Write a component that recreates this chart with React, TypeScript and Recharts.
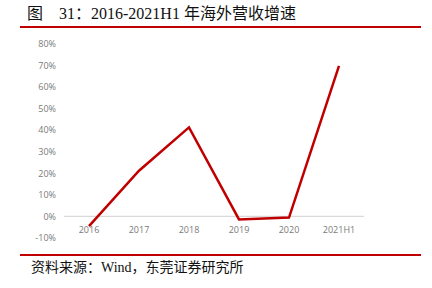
import { LineChart, Line, XAxis, YAxis, ReferenceLine } from "recharts";

const years = ["2016", "2017", "2018", "2019", "2020", "2021H1"];
const growth = [-4.5, 21.2, 41.3, -1.4, -0.5, 69.9];
const yTicks = [-10, 0, 10, 20, 30, 40, 50, 60, 70, 80];

const data = years.map((year, i) => ({ year, growth: growth[i] }));

const RED = "#c00000";
const TEXT_FONT = "'Liberation Serif', 'Noto Sans CJK SC', serif";
const AXIS_FONT = "'Open Sans', 'Liberation Sans', sans-serif";

function XTick({ x, y, payload }: any) {
  return (
    <text
      x={x}
      y={y - 5}
      textAnchor="middle"
      fontSize={9}
      fontFamily={AXIS_FONT}
      fill="#7a7a7a"
    >
      {payload.value}
    </text>
  );
}

export default function App() {
  return (
    <div
      style={{
        position: "absolute",
        left: 0,
        top: 0,
        width: 432,
        height: 288,
        background: "#fff",
        overflow: "hidden",
      }}
    >
      <div
        style={{
          position: "absolute",
          left: 27,
          top: 4,
          fontSize: 16,
          fontFamily: TEXT_FONT,
          color: "#111",
          whiteSpace: "pre",
          lineHeight: "20px",
        }}
      >
        {"图    31：2016-2021H1 年海外营收增速"}
      </div>
      <div
        style={{
          position: "absolute",
          left: 20,
          top: 26,
          width: 401,
          height: 1.5,
          background: RED,
        }}
      />
      <LineChart
        width={432}
        height={288}
        data={data}
        margin={{ top: 44, right: 68, bottom: 30, left: 8 }}
      >
        <XAxis
          dataKey="year"
          axisLine={false}
          tickLine={false}
          tickSize={0}
          tickMargin={0}
          height={20}
          padding={{ left: 25, right: 25 }}
          tick={<XTick />}
          interval={0}
        />
        <YAxis
          width={56}
          domain={[-10, 80]}
          ticks={yTicks}
          axisLine={false}
          tickLine={false}
          tickSize={0}
          tickMargin={8}
          tickFormatter={(v) => `${v}%`}
          tick={{ fontSize: 9, fill: "#7a7a7a", fontFamily: AXIS_FONT }}
        />
        <ReferenceLine y={0} stroke="#d9d9d9" strokeWidth={1.2} />
        <Line
          type="linear"
          dataKey="growth"
          stroke={RED}
          strokeWidth={2.5}
          dot={false}
          isAnimationActive={false}
        />
      </LineChart>
      <div
        style={{
          position: "absolute",
          left: 20,
          top: 254,
          width: 401,
          height: 1.5,
          background: RED,
        }}
      />
      <div
        style={{
          position: "absolute",
          left: 31,
          top: 259,
          fontSize: 14,
          fontFamily: TEXT_FONT,
          color: "#111",
          whiteSpace: "pre",
          lineHeight: "18px",
        }}
      >
        资料来源：Wind，东莞证券研究所
      </div>
    </div>
  );
}
